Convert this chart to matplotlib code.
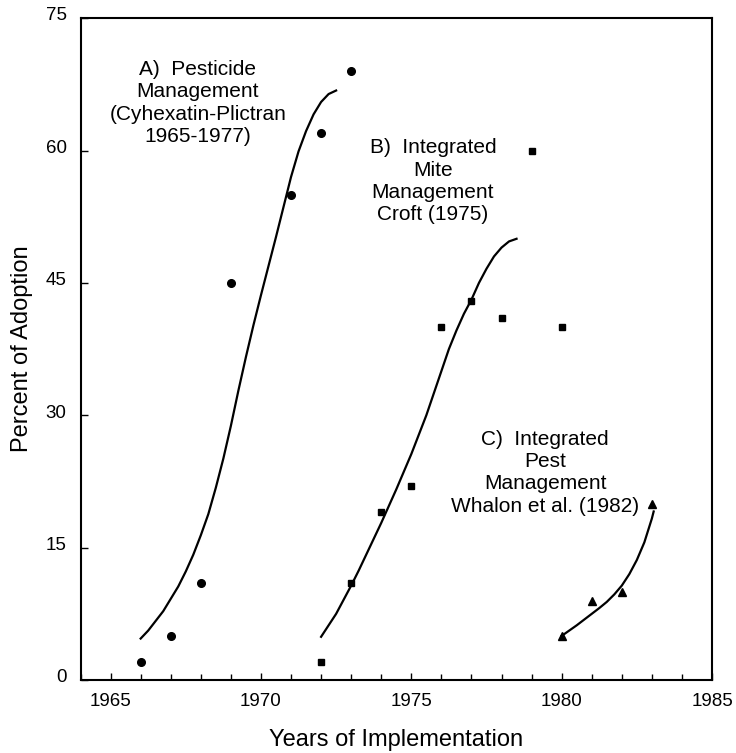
import matplotlib
matplotlib.use("Agg")
import matplotlib.pyplot as plt
import matplotlib.transforms as mtransforms

plt.rcParams['font.family'] = ['Liberation Sans', 'DejaVu Sans']

# Observed adoption data
years_a = [1966, 1967, 1968, 1969, 1971, 1972, 1973]
pct_a = [2, 5, 11, 45, 55, 62, 69]
years_b = [1972, 1973, 1974, 1975, 1976, 1977, 1978, 1979, 1980]
pct_b = [2, 11, 19, 22, 40, 43, 41, 60, 40]
years_c = [1980, 1981, 1982, 1983]
pct_c = [5, 9, 10, 20]

# Fitted curves
curve_a_x = [1966.0, 1966.25, 1966.5, 1966.75, 1967.0, 1967.25, 1967.5, 1967.75,
             1968.0, 1968.25, 1968.5, 1968.75, 1969.0, 1969.25, 1969.5, 1969.75,
             1970.0, 1970.25, 1970.5, 1970.75, 1971.0, 1971.25, 1971.5, 1971.75,
             1972.0, 1972.25, 1972.5]
curve_a_y = [4.7, 5.6, 6.7, 7.8, 9.2, 10.6, 12.3, 14.2,
             16.4, 18.8, 21.8, 25.1, 28.8, 32.8, 36.6, 40.2,
             43.6, 46.9, 50.2, 53.6, 57.0, 59.9, 62.2, 64.1,
             65.5, 66.4, 66.8]
curve_b_x = [1972.0, 1972.25, 1972.5, 1972.75, 1973.0, 1973.25, 1973.5, 1973.75,
             1974.0, 1974.25, 1974.5, 1974.75, 1975.0, 1975.25, 1975.5, 1975.75,
             1976.0, 1976.25, 1976.5, 1976.75, 1977.0, 1977.25, 1977.5, 1977.75,
             1978.0, 1978.25, 1978.5]
curve_b_y = [4.9, 6.2, 7.5, 9.1, 10.7, 12.4, 14.2, 16.0,
             17.8, 19.7, 21.6, 23.6, 25.6, 27.8, 30.0, 32.5,
             35.0, 37.5, 39.6, 41.5, 43.1, 45.0, 46.6, 48.0,
             49.0, 49.7, 50.0]
curve_c_x = [1980.0, 1980.25, 1980.5, 1980.75, 1981.0, 1981.25, 1981.5, 1981.75,
             1982.0, 1982.25, 1982.5, 1982.75, 1983.0, 1983.06]
curve_c_y = [5.0, 5.6, 6.2, 6.85, 7.5, 8.15, 8.85, 9.7,
             10.7, 12.0, 13.6, 15.6, 18.3, 19.1]

labels = [
    "A)  Pesticide\nManagement\n(Cyhexatin-Plictran\n1965-1977)",
    "B)  Integrated\nMite\nManagement\nCroft (1975)",
    "C)  Integrated\nPest\nManagement\nWhalon et al. (1982)",
]
label_pos = [(1967.9, 65.4), (1975.72, 56.5), (1979.45, 23.5)]

x_major = [1965, 1970, 1975, 1980, 1985]
x_minor = list(range(1964, 1986))
y_major = [0, 15, 30, 45, 60, 75]

fig = plt.figure(figsize=(7.36, 7.53), dpi=100)
ax = fig.add_axes([0.1094, 0.0969, 0.858, 0.879])

lw = 1.6
ax.plot(curve_a_x, curve_a_y, color='black', lw=lw)
ax.plot(curve_b_x, curve_b_y, color='black', lw=lw)
ax.plot(curve_c_x, curve_c_y, color='black', lw=lw)

ax.plot(years_a, pct_a, linestyle='none', marker='o', ms=5.5, color='black')
ax.plot(years_b, pct_b, linestyle='none', marker='s', ms=4.8, color='black')
ax.plot(years_c, pct_c, linestyle='none', marker='^', ms=6, color='black')

for txt, (x, y) in zip(labels, label_pos):
    ax.text(x, y, txt, ha='center', va='center', multialignment='center',
            fontsize=15, linespacing=1.22, color='black')

ax.set_xlim(1964, 1985)
ax.set_ylim(0, 75)
ax.set_xticks(x_major)
ax.set_xticks(x_minor, minor=True)
ax.set_yticks(y_major)
ax.tick_params(axis='both', which='major', direction='in', length=5, width=1,
               labelsize=13.5, pad=9)
ax.tick_params(axis='both', which='minor', direction='in', length=4, width=1)
ax.tick_params(axis='y', pad=10)
for sp in ax.spines.values():
    sp.set_linewidth(1.5)

# y tick labels sit slightly above their ticks in the original
offset = mtransforms.ScaledTranslation(0, 3 / 72, fig.dpi_scale_trans)
for lbl in ax.get_yticklabels():
    lbl.set_transform(lbl.get_transform() + offset)

ax.set_xlabel("Years of Implementation", fontsize=17, labelpad=14)
ax.set_ylabel("Percent of Adoption", fontsize=17, labelpad=9)

fig.savefig("out.png", dpi=100)
